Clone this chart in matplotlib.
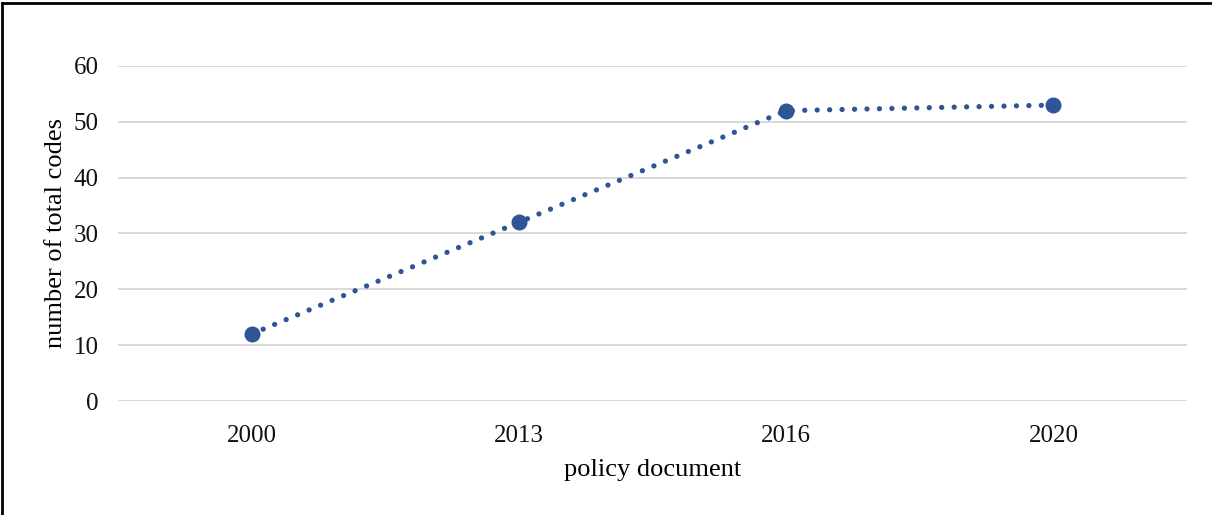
import matplotlib.pyplot as plt
from matplotlib.lines import Line2D

# data
docs = ["2000", "2013", "2016", "2020"]
codes = [12, 32, 52, 53]

plt.rcParams['font.family'] = ['Liberation Serif', 'DejaVu Serif']

fig = plt.figure(figsize=(12.12, 5.15), dpi=100)
ax = fig.add_axes([118/1212, 1 - 401/515, (1187-118)/1212, (401-66)/515])

x = list(range(len(docs)))
ax.plot(x, codes, color="#2F5597", lw=3.8, linestyle=(0, (0.01, 2.35)),
        dash_capstyle="round", marker="o", markersize=10.5, zorder=3)

ax.set_xlim(-0.5, len(docs) - 0.5)
ax.set_ylim(0, 60)
ax.set_yticks(range(0, 61, 10))
ax.set_xticks(x)
ax.set_xticklabels(docs)
ax.tick_params(length=0, labelsize=18, colors="#111111")
ax.tick_params(axis="x", pad=17)
ax.tick_params(axis="y", pad=14)
ax.grid(axis="y", color="#d9d9d9", lw=1.4)
ax.set_axisbelow(True)
for s in ax.spines.values():
    s.set_visible(False)

ax.set_ylabel("number of total codes", fontsize=19, labelpad=5)
ax.set_xlabel("policy document", fontsize=19, labelpad=9)

# outer border (top & left)
fig.add_artist(Line2D([0.0015, 0.0015], [0, 0.995], color="black", lw=2, transform=fig.transFigure))
fig.add_artist(Line2D([0.0015, 1], [0.995, 0.995], color="black", lw=2, transform=fig.transFigure))

fig.savefig("out.png")
